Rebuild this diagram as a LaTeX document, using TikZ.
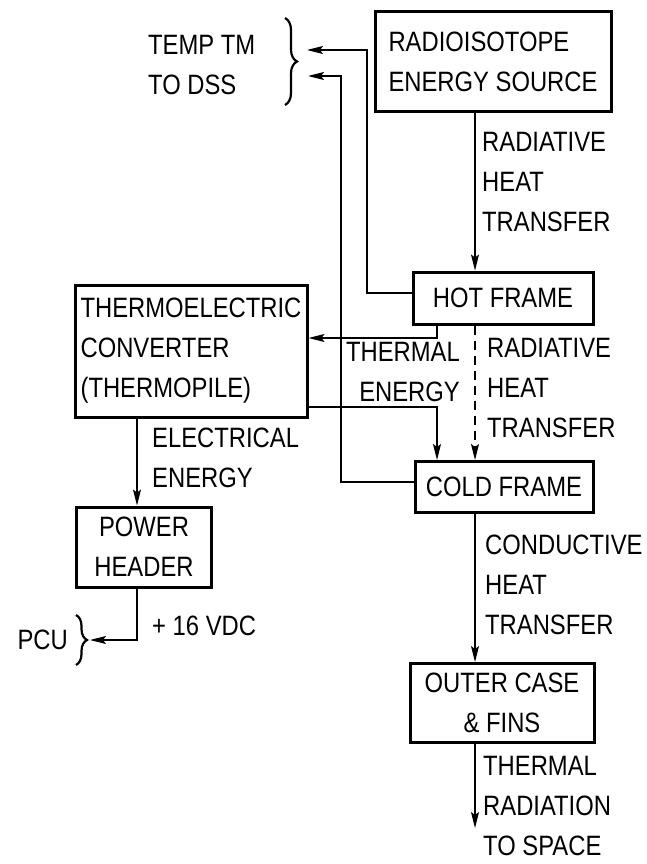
\documentclass[tikz,border=0pt]{standalone}
\usepackage{fontspec}
\setmainfont[FakeStretch=0.85]{Liberation Sans}
\usetikzlibrary{arrows.meta,decorations.pathreplacing}
\tikzset{
  rtgbox/.style={draw,line width=3pt,inner sep=0pt,align=left},
  rtgline/.style={line width=1.4pt},
  rtgflow/.style={rtgline,-{Stealth[length=16pt,width=8pt,inset=3pt]}},
  rtgnote/.style={inner sep=0pt,align=left},
  rtgbrace/.style={line width=2.2pt,decorate,decoration={brace,amplitude=12pt}},
  every picture/.style={font=\fontsize{28}{40}\selectfont}
}

\begin{document}
\begin{tikzpicture}[x=1pt,y=-1pt]
  \useasboundingbox (0,0) rectangle (647,864);
  % blocks, placed at the centres
  \node[rtgbox,minimum width=236,minimum height=100] (source) at (493,62)
    {RADIOISOTOPE\\ENERGY SOURCE};
  \node[rtgbox,minimum width=180,minimum height=52] (hot) at (503,298) {HOT FRAME};
  \node[rtgbox,minimum width=232,minimum height=132] (conv) at (191,351)
    {THERMOELECTRIC\\CONVERTER\\(THERMOPILE)};
  \node[rtgbox,minimum width=178,minimum height=51] (cold) at (504,487) {COLD FRAME};
  \node[rtgbox,align=center,minimum width=135,minimum height=80] (header) at (144,547)
    {POWER\\HEADER};
  \node[rtgbox,align=center,minimum width=184,minimum height=79] (outer) at (502,703)
    {OUTER CASE\\\& FINS};

  \coordinate (spine) at (475,0);
  \coordinate (tap) at (437,0);
  \coordinate (elec) at (137,0);
  \coordinate (thA) at (0,338);
  \coordinate (thB) at (0,407);
  \coordinate (tmA) at (307,50);
  \coordinate (tmB) at (308,76);
  \coordinate (pcuin) at (90,640);
  \coordinate (space) at (475,828);

  \draw[rtgflow] (source.south -| spine) -- (hot.north -| spine);
  \draw[rtgflow] ([yshift=5pt]hot.west) -| (367,50) -- (tmA);
  \draw[rtgflow] (hot.south -| tap) |- (conv.east |- thA);
  \draw[rtgflow,dash pattern=on 9pt off 6pt] (hot.south -| spine) -- (cold.north -| spine);
  \draw[rtgflow] (conv.east |- thB) -| (cold.north -| tap);
  \draw[rtgflow] ([yshift=5pt]cold.west) -| (341,76) -- (tmB);
  \draw[rtgflow] (conv.south -| elec) -- (header.north -| elec);
  \draw[rtgflow] (header.south -| elec) |- (pcuin);
  \draw[rtgflow] (cold.south -| spine) -- (outer.north -| spine);
  \draw[rtgflow] (outer.south -| spine) -- (space);

  \draw[rtgbrace] (285,18) -- (285,105);
  \draw[rtgbrace,decoration={brace,amplitude=11pt}] (76,615) -- (76,665);

  \node[rtgnote,anchor=west] (tmlabel) at (148,65) {TEMP TM\\TO DSS};
  \node[rtgnote,anchor=west] (radA) at (482,182) {RADIATIVE\\HEAT\\TRANSFER};
  \node[rtgnote,anchor=east,align=right] (thermal) at (460,372) {THERMAL\\ENERGY};
  \node[rtgnote,anchor=west] (radB) at (487,388) {RADIATIVE\\HEAT\\TRANSFER};
  \node[rtgnote,anchor=west] (electrical) at (152,458) {ELECTRICAL\\ENERGY};
  \node[rtgnote,anchor=west] (vdc) at (152,626) {+ 16 VDC};
  \node[rtgnote,anchor=east] (pcu) at (68,640) {PCU};
  \node[rtgnote,anchor=west] (conduct) at (485,585) {CONDUCTIVE\\HEAT\\TRANSFER};
  \node[rtgnote,anchor=west] (radiate) at (483,806) {THERMAL\\RADIATION\\TO SPACE};
\end{tikzpicture}
\end{document}
